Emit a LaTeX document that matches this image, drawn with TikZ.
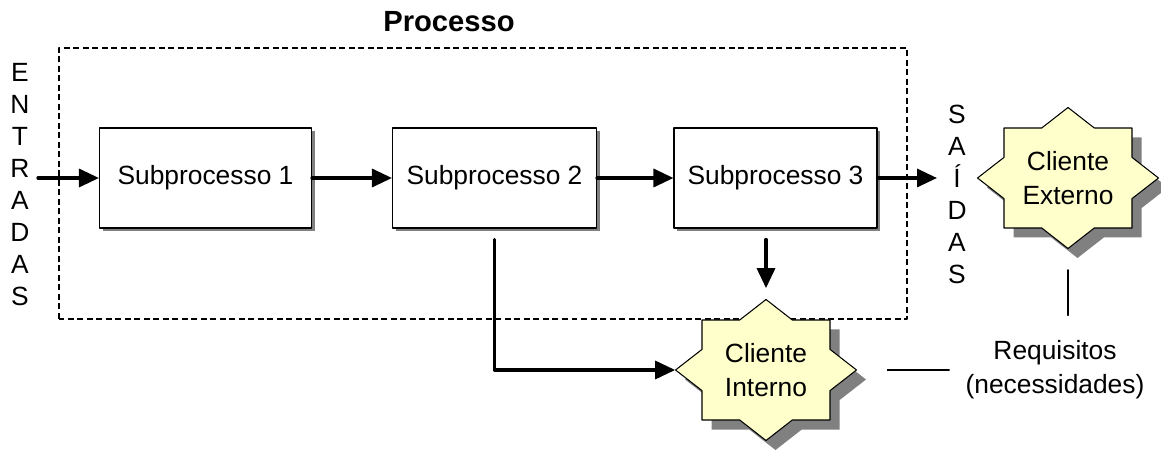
\documentclass[tikz,border=0pt]{standalone}
\usepackage{fontspec}
\setmainfont{Liberation Sans}
\usetikzlibrary{arrows.meta,shadows}
\definecolor{starfill}{RGB}{255,255,204}
\newcommand{\starpts}{(0,1.41)--(0.526,1)--(1.28,1)--(1.28,0.412)--(1.81,0)--(1.28,-0.412)--(1.28,-1)--(0.526,-1)--(0,-1.41)--(-0.526,-1)--(-1.28,-1)--(-1.28,-0.412)--(-1.81,0)--(-1.28,0.412)--(-1.28,1)--(-0.526,1)--cycle}
\tikzset{
	subbox/.style={draw,line width=0.6pt,fill=white,minimum height=2cm,inner sep=0pt,general shadow={fill=gray,shadow xshift=0.06cm,shadow yshift=-0.06cm}},
	starnode/.style={align=center,minimum width=3.62cm,minimum height=2.82cm,inner sep=0pt},
	letters/.style={align=center,inner sep=0pt,font=\fontsize{15}{18.2}\selectfont},
	seta/.style={line width=1.9pt,-{Triangle[length=0.4cm,width=0.36cm]}},
	fio/.style={line width=0.6pt},
	client/.pic={
		\fill[gray,shift={(0.19,-0.19)}] \starpts;
		\draw[line width=0.6pt,fill=starfill] \starpts;
	}
}
\begin{document}
\begin{tikzpicture}[line join=round,line cap=round,font=\fontsize{15}{19.3}\selectfont]
	\useasboundingbox (0,0) rectangle (23.22,8.98);
	
	% processo
	\draw[line width=0.6pt,line cap=butt,dash pattern=on 0.12cm off 0.07cm] (1.18,2.6) rectangle (18.14,8.02);
	\node[font=\fontsize{16.6}{20}\selectfont\bfseries] (proc) at (8.98,8.55) {Processo};
	
	\node[subbox,minimum width=4.24cm] (sub1) at (4.11,5.42) {Subprocesso 1};
	\node[subbox,minimum width=4.08cm] (sub2) at (9.89,5.42) {Subprocesso 2};
	\node[subbox,minimum width=4.06cm] (sub3) at (15.51,5.42) {Subprocesso 3};
	
	% clientes
	\pic at (15.32,1.58) {client};
	\pic at (21.36,5.42) {client};
	\node[starnode] (ci) at (15.32,1.58) {Cliente\\Interno};
	\node[starnode] (ce) at (21.36,5.42) {Cliente\\Externo};
	
	\node[letters] (ent) at (0.40,5.29) {E\\N\\T\\R\\A\\D\\A\\S};
	\node[letters] (sai) at (19.14,5.10) {S\\A\\Í\\D\\A\\S};
	\node[align=center,inner sep=0pt] (req) at (21.10,1.58) {Requisitos\\(necessidades)};
	
	\coordinate (in) at (0.76,5.42);
	\coordinate (out) at (18.74,5.42);
	
	\draw[seta] (in) -- (sub1.west);
	\draw[seta] (sub1.east) -- (sub2.west);
	\draw[seta] (sub2.east) -- (sub3.west);
	\draw[seta] (sub3.east) -- (out);
	\draw[seta,shorten <=0.22cm] (sub2.south) |- (ci.west);
	\draw[seta,shorten <=0.22cm,shorten >=0.22cm] (sub3.south -| ci.north) -- (ci.north);
	
	% requisitos
	\draw[fio,shorten <=0.61cm,shorten >=0.32cm] (ci.east) -- (req.west);
	\draw[fio,shorten <=0.42cm,shorten >=0.5cm] (ce.south) -- (ce.south |- req.north);
\end{tikzpicture}
\end{document}
